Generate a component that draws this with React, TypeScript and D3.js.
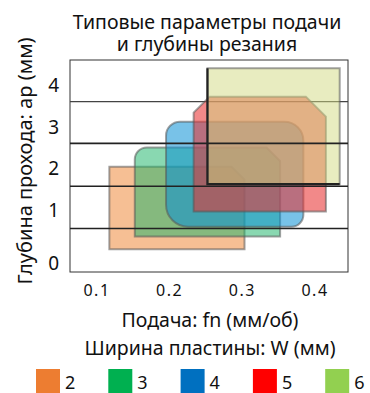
import React from "react";
import * as d3 from "d3";

// ---- data ----
const widths = [2, 3, 4, 5, 6];
const fnMin = [0.117, 0.152, 0.195, 0.233, 0.252];
const fnMax = [0.303, 0.352, 0.384, 0.415, 0.434];
const apMin = [0.26, 0.5, 0.685, 0.97, 1.62];
const apMax = [2.04, 2.5, 3.12, 3.72, 4.4];
const refLines = [0.65, 1.57, 2.6, 3.6];
const xTicks = [0.1, 0.2, 0.3, 0.4];
const yTicks = [0, 1, 2, 3, 4];
const titleLines = ["Типовые параметры подачи", "и глубины резания"];
const xTitleLines = ["Подача: fn (мм/об)", "Ширина пластины: W (мм)"];
const yTitle = "Глубина прохода: ap (мм)";

// ---- styles ----
const legendColors = ["#ed7d31", "#00b050", "#0070c0", "#ff0000", "#92d050"];
const fillColors = ["#ee8a3c", "#1db46a", "#0a8fd6", "#e83333", "#d2da82"];
const fillOpacity = [0.55, 0.52, 0.55, 0.58, 0.5];
type Corner = { t: "sq" | "rd" | "ch"; r: number };
const corners: Corner[][] = [
  [{ t: "sq", r: 0 }, { t: "ch", r: 13 }, { t: "sq", r: 0 }, { t: "sq", r: 0 }],
  [{ t: "rd", r: 12 }, { t: "ch", r: 13.5 }, { t: "sq", r: 0 }, { t: "sq", r: 0 }],
  [{ t: "rd", r: 14 }, { t: "rd", r: 19 }, { t: "rd", r: 12 }, { t: "rd", r: 22 }],
  [{ t: "ch", r: 16 }, { t: "ch", r: 20 }, { t: "sq", r: 0 }, { t: "sq", r: 0 }],
  [{ t: "sq", r: 0 }, { t: "sq", r: 0 }, { t: "sq", r: 0 }, { t: "sq", r: 0 }],
];
const FONT = "'Noto Sans', 'Open Sans', sans-serif";

const W = 370, H = 393;
const frame = { left: 70, top: 60, right: 348, bottom: 272 };

const x = d3.scaleLinear().domain([0.1, 0.4]).range([97, 315]);
const y = d3.scaleLinear().domain([0, 1, 4]).range([263, 210, 85]);

function shapePath(x0: number, x1: number, yt: number, yb: number, c: Corner[]) {
  const p = d3.path();
  const [tl, tr, br, bl] = c;
  p.moveTo(x0 + tl.r, yt);
  p.lineTo(x1 - tr.r, yt);
  if (tr.t === "rd") p.arcTo(x1, yt, x1, yt + tr.r, tr.r);
  else p.lineTo(x1, yt + tr.r);
  p.lineTo(x1, yb - br.r);
  if (br.t === "rd") p.arcTo(x1, yb, x1 - br.r, yb, br.r);
  else p.lineTo(x1 - br.r, yb);
  p.lineTo(x0 + bl.r, yb);
  if (bl.t === "rd") p.arcTo(x0, yb, x0, yb - bl.r, bl.r);
  else p.lineTo(x0, yb - bl.r);
  p.lineTo(x0, yt + tl.r);
  if (tl.t === "rd") p.arcTo(x0, yt, x0 + tl.r, yt, tl.r);
  else p.lineTo(x0 + tl.r, yt);
  p.closePath();
  return p.toString();
}

export default function App() {
  const shapes = widths.map((w, i) => (
    <path
      key={"s" + w}
      d={shapePath(x(fnMin[i]), x(fnMax[i]), y(apMax[i]), y(apMin[i]), corners[i])}
      fill={fillColors[i]}
      fillOpacity={fillOpacity[i]}
      stroke="#555"
      strokeOpacity={0.55}
      strokeWidth={2}
    />
  ));
  const line = (v: number, k: number, light: boolean) => (
    <line
      key={"l" + k}
      x1={frame.left}
      x2={frame.right}
      y1={y(v)}
      y2={y(v)}
      stroke={light ? "#444" : "#222"}
      strokeWidth={light ? 1.2 : 1.6}
    />
  );
  const last = widths.length - 1;
  return (
    <svg
      width={W}
      height={H}
      style={{ position: "absolute", left: 0, top: 0, background: "#fff" }}
      fontFamily={FONT}
    >
      {titleLines.map((t, i) => (
        <text key={t} x={207} y={29 + i * 22} textAnchor="middle" fontSize={19.5} fill="#111">
          {t}
        </text>
      ))}
      <rect
        x={frame.left}
        y={frame.top}
        width={frame.right - frame.left}
        height={frame.bottom - frame.top}
        fill="none"
        stroke="#333"
        strokeWidth={1}
      />
      {shapes.slice(0, 3)}
      {refLines.filter((v) => v > 3).map((v, k) => line(v, k, true))}
      {shapes.slice(3)}
      {/* thick left and bottom edges of the W=6 region */}
      <path
        d={`M${x(fnMin[last])},${y(apMax[last])}V${y(apMin[last])}H${x(fnMax[last])}`}
        fill="none"
        stroke="#222"
        strokeWidth={2.2}
      />
      {refLines.filter((v) => v <= 3).map((v, k) => line(v, k + 10, false))}
      {yTicks.map((t) => (
        <text key={"yt" + t} x={59} y={y(t) + 7} textAnchor="end" fontSize={19} fill="#111">
          {t}
        </text>
      ))}
      {xTicks.map((t) => (
        <text
          key={"xt" + t}
          x={x(t)}
          y={296}
          textAnchor="middle"
          fontSize={16}
          letterSpacing={1.5}
          fill="#111"
        >
          {d3.format(".1f")(t)}
        </text>
      ))}
      {xTitleLines.map((t, i) => (
        <text key={t} x={210} y={327 + i * 28} textAnchor="middle" fontSize={19.5} fill="#111">
          {t}
        </text>
      ))}
      <text
        transform={`translate(32,${161}) rotate(-90)`}
        textAnchor="middle"
        fontSize={20}
        fill="#111"
      >
        {yTitle}
      </text>
      {widths.map((w, i) => (
        <g key={"lg" + w} transform={`translate(${36 + i * 72.3},369)`}>
          <rect width={24} height={24} fill={legendColors[i]} />
          <text x={29} y={20} fontSize={18} fill="#111">
            {w}
          </text>
        </g>
      ))}
    </svg>
  );
}
